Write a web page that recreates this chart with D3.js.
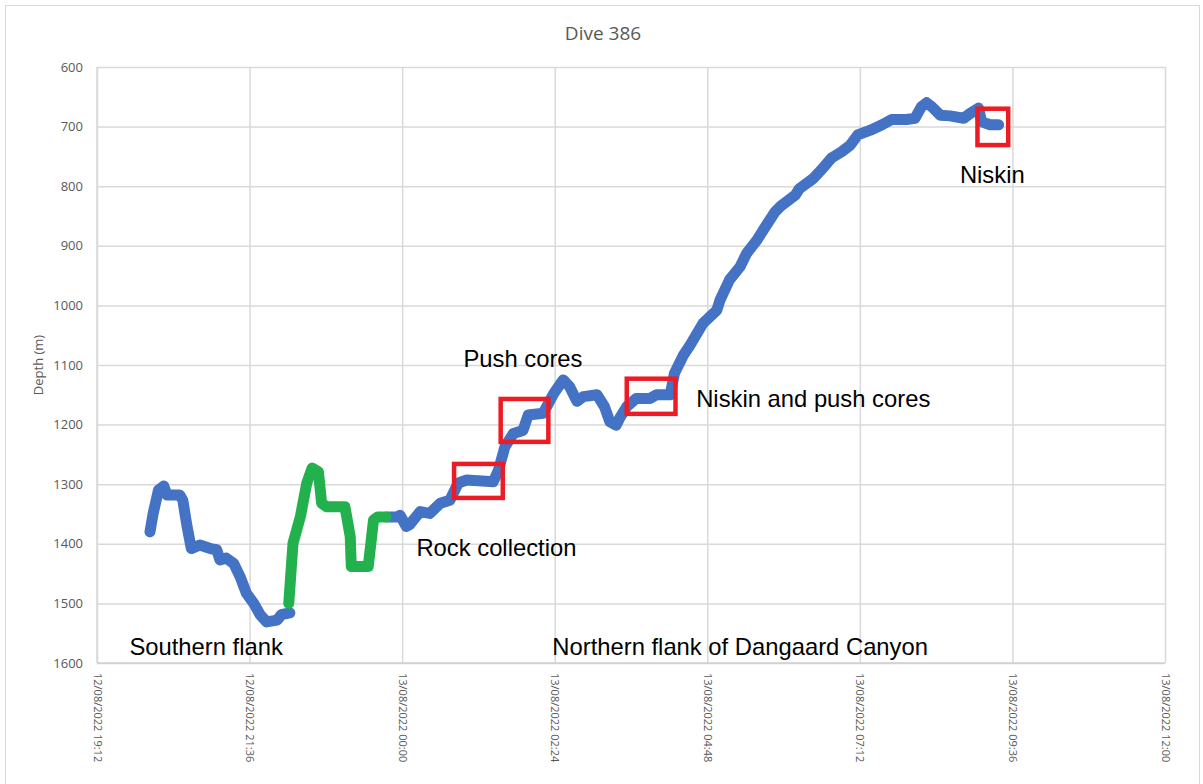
<!DOCTYPE html>
<html>
<head>
<meta charset="utf-8">
<script src="https://cdn.jsdelivr.net/npm/d3@7"></script>
<style>
  html, body { margin: 0; padding: 0; background: #fff; }
  svg { display: block; }
</style>
</head>
<body>
<svg id="chart" width="1203" height="784"></svg>
<script>
// ---------------- DATA ----------------
const title = "Dive 386";
const yAxisTitle = "Depth (m)";
const yTicks = [600, 700, 800, 900, 1000, 1100, 1200, 1300, 1400, 1500, 1600];
const xTicks = ["2022-08-12T19:12", "2022-08-12T21:36", "2022-08-13T00:00", "2022-08-13T02:24",
                "2022-08-13T04:48", "2022-08-13T07:12", "2022-08-13T09:36", "2022-08-13T12:00"];

// Southern flank descent (blue), times on 12/08 (>=19h) or 13/08 (<19h)
const blue1Times = ["20:02","20:05","20:10","20:15","20:18","20:30","20:33","20:37","20:41","20:49",
                    "20:59","21:05","21:08","21:14","21:21","21:27","21:33","21:40","21:46","21:52",
                    "22:02","22:06","22:14"];
const blue1Depths = [1380,1349,1310,1303,1318,1318,1327,1371,1408,1402,
                     1408,1410,1427,1424,1433,1455,1483,1500,1519,1531,
                     1528,1519,1516];

// Rock collection section (green)
const greenTimes = ["22:13","22:17","22:24","22:30","22:35","22:41","22:44","22:49","23:06","23:11",
                    "23:12","23:28","23:33","23:37","23:45"];
const greenDepths = [1500,1399,1354,1298,1273,1279,1332,1338,1338,1388,
                     1438,1438,1360,1355,1355];

// Northern flank ascent (blue)
const blue2Times = ["23:45","23:55","23:58","00:04","00:07","00:17","00:26","00:36","00:45","00:53",
                    "01:01","01:26","01:31","01:37","01:45","01:54","01:59","02:13","02:23","02:32",
                    "02:38","02:45","02:51","03:04","03:11","03:16","03:22","03:26","03:32","03:41",
                    "03:54","04:00","04:13","04:17","04:25","04:32","04:44","04:57","05:00","05:09",
                    "05:19","05:25","05:35","05:41","05:52","05:57","06:11","06:15","06:28","06:37",
                    "06:45","06:55","07:03","07:10","07:22","07:33","07:42","07:56","08:04","08:10",
                    "08:15","08:20","08:28","08:37","08:50","08:56","09:04","09:07","09:15","09:23"];
const blue2Depths = [1355,1355,1352,1371,1368,1346,1349,1332,1327,1298,
                     1293,1296,1276,1237,1215,1210,1184,1181,1148,1125,
                     1136,1161,1153,1150,1170,1195,1201,1187,1170,1156,
                     1156,1150,1150,1114,1085,1066,1030,1008,991,957,
                     935,913,890,873,843,834,815,804,787,770,
                     753,742,731,714,706,697,688,688,686,667,
                     660,667,681,682,686,678,669,692,697,697];

// Sampling boxes (time range, depth range)
const boxStart = ["00:49","01:33","03:32","09:03"];
const boxEnd   = ["01:35","02:18","04:18","09:32"];
const boxTop   = [1266, 1157, 1123, 670];
const boxBottom= [1323, 1229, 1182, 731];

// Annotation labels (anchored at time / depth, centred)
const labelTexts  = ["Southern flank","Rock collection","Push cores","Niskin and push cores","Niskin","Northern flank of Dangaard Canyon"];
const labelTimes  = ["20:55","01:29","01:54","06:28","09:17","05:19"];
const labelDepths = [1587, 1420, 1103, 1170, 795, 1587];

// ---------------- HELPERS ----------------
function toDate(hm) {
  const h = +hm.slice(0, 2);
  const day = h >= 19 ? "2022-08-12" : "2022-08-13";
  return new Date(day + "T" + hm + ":00");
}
function zip(ts, ds) { return ts.map((t, i) => ({ t: toDate(t), d: ds[i] })); }

// ---------------- LAYOUT ----------------
const svg = d3.select("#chart");
const pLeft = 97, pRight = 1165, pTop = 67, pBottom = 663;

const x = d3.scaleTime()
  .domain([new Date(xTicks[0] + ":00"), new Date(xTicks[xTicks.length - 1] + ":00")])
  .range([pLeft, pRight]);
const y = d3.scaleLinear().domain([600, 1600]).range([pTop, pBottom]);

const grid = "#d9d9d9", txt = "#595959";

// outer chart border
svg.append("rect").attr("x", 5.5).attr("y", 5.5).attr("width", 1194).attr("height", 790)
  .attr("fill", "#fff").attr("stroke", grid).attr("stroke-width", 1);

// Title
svg.append("text").attr("x", 603).attr("y", 40).attr("text-anchor", "middle")
  .attr("font-family", "'Open Sans', sans-serif").attr("font-size", 19).attr("fill", txt)
  .text(title);

// Horizontal gridlines + y axis
const yAxis = d3.axisLeft(y).tickValues(yTicks).tickSize(-(pRight - pLeft)).tickPadding(14).tickFormat(d3.format("d"));
const gy = svg.append("g").attr("transform", `translate(${pLeft},0)`).call(yAxis);
gy.select(".domain").remove();
gy.selectAll(".tick line").attr("stroke", grid).attr("stroke-width", 1.5);
gy.selectAll(".tick text").attr("fill", txt).attr("font-family", "'Open Sans', sans-serif").attr("font-size", 13);

// Vertical gridlines + x axis
const xAxis = d3.axisBottom(x).tickValues(xTicks.map(s => new Date(s + ":00")))
  .tickSize(-(pBottom - pTop)).tickFormat(d3.timeFormat("%d/%m/%Y %H:%M"));
const gx = svg.append("g").attr("transform", `translate(0,${pBottom})`).call(xAxis);
gx.select(".domain").remove();
gx.selectAll(".tick line").attr("stroke", grid).attr("stroke-width", 1.5);
gx.selectAll(".tick text")
  .attr("fill", txt).attr("font-family", "'Open Sans', sans-serif").attr("font-size", 11)
  .attr("text-anchor", "start")
  .attr("transform", "rotate(90)")
  .attr("x", 10).attr("y", 0).attr("dy", "0.35em");

// axis lines (left and bottom)
svg.append("line").attr("x1", pLeft).attr("x2", pLeft).attr("y1", pTop).attr("y2", pBottom)
  .attr("stroke", grid).attr("stroke-width", 1.5);
svg.append("line").attr("x1", pLeft).attr("x2", pRight).attr("y1", pBottom).attr("y2", pBottom)
  .attr("stroke", "#cfcfcf").attr("stroke-width", 1.5);

// Y axis title
svg.append("text").attr("transform", `translate(43,${(pTop + pBottom) / 2}) rotate(-90)`)
  .attr("text-anchor", "middle").attr("font-family", "'Open Sans', sans-serif")
  .attr("font-size", 13).attr("fill", txt).text(yAxisTitle);

// Lines
const line = d3.line().x(p => x(p.t)).y(p => y(p.d));
const series = [
  { data: zip(blue1Times, blue1Depths), color: "#4472c4" },
  { data: zip(blue2Times, blue2Depths), color: "#4472c4" },
  { data: zip(greenTimes, greenDepths), color: "#22b14c" }
];
svg.selectAll("path.series").data(series).join("path").attr("class", "series")
  .attr("d", s => line(s.data)).attr("fill", "none").attr("stroke", s => s.color)
  .attr("stroke-width", 11).attr("stroke-linejoin", "round").attr("stroke-linecap", "round");

// Red boxes
const boxes = boxStart.map((s, i) => ({ s: toDate(s), e: toDate(boxEnd[i]), t: boxTop[i], b: boxBottom[i] }));
svg.selectAll("rect.box").data(boxes).join("rect").attr("class", "box")
  .attr("x", b => x(b.s)).attr("y", b => y(b.t))
  .attr("width", b => x(b.e) - x(b.s)).attr("height", b => y(b.b) - y(b.t))
  .attr("fill", "none").attr("stroke", "#ed1c24").attr("stroke-width", 4.5);

// Labels
const labels = labelTexts.map((t, i) => ({ text: t, t: toDate(labelTimes[i]), d: labelDepths[i] }));
svg.selectAll("text.lab").data(labels).join("text").attr("class", "lab")
  .attr("x", l => x(l.t)).attr("y", l => y(l.d)).attr("text-anchor", "middle")
  .attr("font-family", "'Liberation Sans', Arial, sans-serif").attr("font-size", 23.8).attr("fill", "#000")
  .text(l => l.text);
</script>
</body>
</html>
